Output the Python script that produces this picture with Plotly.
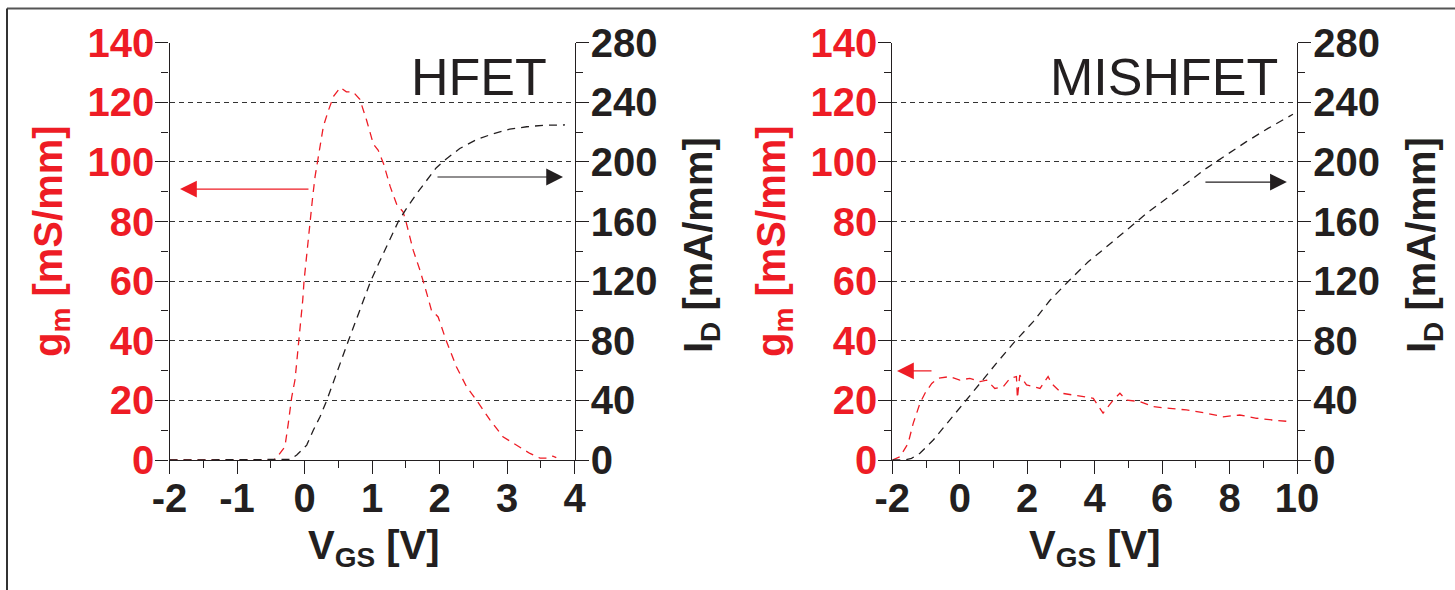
import plotly.graph_objects as go

# ---------------- data ----------------
# HFET
hfet_gm_v = [-2.0, -1.0, -0.46, -0.41, -0.29, -0.24, -0.19, -0.14, -0.105, -0.066, -0.026, -0.007, 0.018, 0.048,
             0.082, 0.12, 0.156, 0.19, 0.23, 0.28, 0.35, 0.43, 0.53, 0.62, 0.72, 0.82, 0.92, 1.02, 1.09,
             1.17, 1.27, 1.37, 1.46, 1.51, 1.61, 1.71, 1.81, 1.88, 1.98, 2.1, 2.25, 2.4, 2.55, 2.75,
             2.94, 3.14, 3.34, 3.49, 3.59, 3.68, 3.73]
hfet_gm = [0.0, 0.0, 0.0, 0.8, 4.5, 12.3, 21.0, 27.0, 35.0, 43.6, 53.7, 60.0, 66.0, 72.7,
           80.0, 88.0, 95.0, 100.0, 106.0, 112.0, 117.0, 122.0, 125.0, 123.5, 123.5, 121.0, 114.0, 106.0, 104.0,
           99.5, 91.7, 85.5, 83.3, 79.4, 70.4, 63.7, 56.0, 50.3, 48.0, 40.0, 31.3, 24.6, 20.0, 13.4,
           7.8, 5.0, 2.2, 0.6, 0.6, 1.3, 0.8]

hfet_id_v = [-2.0, -1.0, -0.4, -0.21, -0.115, 0.033, 0.13, 0.23, 0.33, 0.43, 0.53, 0.65, 0.75, 0.85, 0.98,
             1.1, 1.2, 1.3, 1.39, 1.5, 1.65, 1.8, 1.95, 2.1, 2.3, 2.55, 2.8, 3.04, 3.29, 3.54, 3.86]
hfet_id = [0.0, 0.0, 0.0, 0.4, 3.4, 10.0, 20.0, 29.0, 40.0, 52.0, 65.0, 80.0, 92.0, 104.0, 120.0,
           132.0, 142.0, 151.0, 160.0, 168.0, 178.0, 187.0, 196.0, 202.0, 209.0, 215.0, 219.0, 222.0, 223.6,
           224.6, 224.8]

# MISHFET
mis_gm_v = [-2.0, -1.77, -1.53, -1.38, -1.18, -1.03, -0.83, -0.64, -0.29, 0.0, 0.3, 0.6, 0.8, 1.04, 1.29,
            1.49, 1.68, 1.71, 1.78, 1.98, 2.38, 2.62, 2.72, 3.02, 3.36, 3.96, 4.25, 4.55, 4.75, 4.94,
            5.34, 5.73, 6.23, 6.72, 7.31, 7.81, 8.3, 8.8, 9.29, 9.78]
mis_gm = [0.0, 1.1, 5.6, 12.3, 19.0, 22.4, 25.7, 27.4, 28.0, 26.8, 27.4, 26.3, 26.8, 24.0, 24.6,
          27.4, 28.0, 20.7, 28.5, 25.2, 24.0, 28.0, 25.7, 22.4, 21.8, 20.7, 15.7, 20.1, 22.4, 20.1,
          19.6, 17.9, 17.3, 16.8, 15.7, 14.5, 15.1, 14.0, 13.4, 12.9]

mis_id_v = [-2.0, -1.6, -1.43, -1.18, -0.785, -0.29, 0.15, 0.6, 1.09, 1.63, 2.18, 2.67, 3.26, 3.81, 4.35,
            4.94, 5.54, 6.13, 6.72, 7.31, 7.9, 8.5, 9.14, 9.88]
mis_id = [0.0, 0.2, 1.1, 4.5, 13.4, 26.8, 39.0, 51.4, 65.0, 79.4, 92.8, 107.0, 120.8, 133.0, 143.0,
          154.0, 165.5, 175.5, 185.6, 195.7, 204.6, 213.6, 222.5, 232.0]

# tick labels
hfet_x_ticks = [-2, -1, 0, 1, 2, 3, 4]
hfet_x_labels = ["-2", "-1", "0", "1", "2", "3", "4"]
mis_x_ticks = [-2, 0, 2, 4, 6, 8, 10]
mis_x_labels = ["-2", "0", "2", "4", "6", "8", "10"]
gm_ticks = [0, 20, 40, 60, 80, 100, 120, 140]
id_ticks = [0, 40, 80, 120, 160, 200, 240, 280]

panel_titles = ["HFET", "MISHFET"]
gm_title = "g<sub>m</sub> [mS/mm]"
id_title = "I<sub>D</sub> [mA/mm]"
x_title = "V<sub>GS</sub> [V]"

# ---------------- styling ----------------
W, H = 1455, 590
RED = "#EE1C25"
BLK = "#231F20"
FAM = "Liberation Sans, Arial, sans-serif"


def px(x):
    return x / W


def py(y):
    return 1 - y / H


ydom = [py(460), py(42.7)]
xdom1 = [px(169.5), px(574.5)]
xdom2 = [px(892.3), px(1297)]

tickfont_blk = dict(family=FAM, size=40, color=BLK, weight="bold")
tickfont_red = dict(family=FAM, size=40, color=RED, weight="bold")

fig = go.Figure()
line_dash = "8px,6px"
fig.add_trace(go.Scatter(x=hfet_id_v, y=hfet_id, xaxis="x", yaxis="y2", mode="lines",
                         line=dict(color=BLK, width=1.3, dash=line_dash), showlegend=False))
fig.add_trace(go.Scatter(x=hfet_gm_v, y=hfet_gm, xaxis="x", yaxis="y", mode="lines",
                         line=dict(color=RED, width=1.3, dash=line_dash), showlegend=False))
fig.add_trace(go.Scatter(x=mis_id_v, y=mis_id, xaxis="x2", yaxis="y4", mode="lines",
                         line=dict(color=BLK, width=1.3, dash=line_dash), showlegend=False))
fig.add_trace(go.Scatter(x=mis_gm_v, y=mis_gm, xaxis="x2", yaxis="y3", mode="lines",
                         line=dict(color=RED, width=1.3, dash=line_dash), showlegend=False))

common_x = dict(showline=True, linecolor=BLK, linewidth=1.3, ticks="outside", ticklen=13,
                tickcolor=BLK, tickwidth=1.3, showgrid=False, zeroline=False, tickfont=tickfont_blk,
                automargin=False, ticklabelstandoff=-10)
common_top = dict(showline=True, linecolor=BLK, linewidth=1.3, ticks="inside", ticklen=13,
                  tickcolor=BLK, tickwidth=1.3, showgrid=False, zeroline=False, showticklabels=False,
                  side="top", automargin=False)
common_yl = dict(showline=True, linecolor=BLK, linewidth=1.3, ticks="outside", ticklen=13,
                 tickcolor=BLK, tickwidth=1.3, zeroline=False, tickfont=tickfont_red,
                 showgrid=True, gridcolor="#333333", gridwidth=1, griddash="5px,4px",
                 range=[0, 140], tickmode="array", tickvals=gm_ticks, ticktext=[str(v) for v in gm_ticks],
                 minor=dict(dtick=10, tick0=0, ticklen=7, ticks="outside", tickcolor=BLK, tickwidth=1.3),
                 automargin=False, ticklabelstandoff=-7)
common_yr = dict(showline=True, linecolor=BLK, linewidth=1.3, ticks="outside", ticklen=13,
                 tickcolor=BLK, tickwidth=1.3, zeroline=False, tickfont=tickfont_blk,
                 showgrid=False, range=[0, 280], side="right",
                 tickmode="array", tickvals=id_ticks, ticktext=[str(v) for v in id_ticks],
                 minor=dict(dtick=20, tick0=0, ticklen=7, ticks="outside", tickcolor=BLK, tickwidth=1.3),
                 automargin=False, ticklabelstandoff=-6)

fig.update_layout(
    template="none",
    width=W, height=H,
    margin=dict(l=0, r=0, t=0, b=0, autoexpand=False),
    paper_bgcolor="white", plot_bgcolor="white",
    showlegend=False,
    xaxis=dict(domain=xdom1, anchor="y", range=[-2, 4], tickmode="array", tickvals=hfet_x_ticks,
               ticktext=hfet_x_labels,
               minor=dict(dtick=0.5, tick0=0, ticklen=7, ticks="outside", tickcolor=BLK, tickwidth=1.3),
               **common_x),
    xaxis3=dict(overlaying="x", anchor="y", range=[-2, 4], tickmode="array", tickvals=hfet_x_ticks,
                minor=dict(dtick=0.5, tick0=0, ticklen=7, ticks="inside", tickcolor=BLK, tickwidth=1.3),
                **common_top),
    yaxis=dict(domain=ydom, anchor="x", **common_yl),
    yaxis2=dict(overlaying="y", anchor="x", **common_yr),
    xaxis2=dict(domain=xdom2, anchor="y3", range=[-2, 10], tickmode="array", tickvals=mis_x_ticks,
                ticktext=mis_x_labels,
                minor=dict(dtick=1, tick0=0, ticklen=7, ticks="outside", tickcolor=BLK, tickwidth=1.3),
                **common_x),
    xaxis4=dict(overlaying="x2", anchor="y3", range=[-2, 10], tickmode="array", tickvals=mis_x_ticks,
                minor=dict(dtick=1, tick0=0, ticklen=7, ticks="inside", tickcolor=BLK, tickwidth=1.3),
                **common_top),
    yaxis3=dict(domain=ydom, anchor="x2", **common_yl),
    yaxis4=dict(overlaying="y3", anchor="x2", **common_yr),
)

ann = []
title_font_red = dict(family=FAM, size=40, color=RED, weight="bold")
title_font_blk = dict(family=FAM, size=40, color=BLK, weight="bold")
for cx_gm, cx_id, cx_x in [(51, 701, 374), (774, 1424, 1094.5)]:
    ann.append(dict(text=gm_title, x=px(cx_gm), y=py(241), xref="paper", yref="paper",
                    textangle=-90, showarrow=False, xanchor="center", yanchor="middle", font=title_font_red))
    ann.append(dict(text=id_title, x=px(cx_id), y=py(245), xref="paper", yref="paper",
                    textangle=-90, showarrow=False, xanchor="center", yanchor="middle", font=title_font_blk))
    ann.append(dict(text=x_title, x=px(cx_x), y=py(548), xref="paper", yref="paper",
                    showarrow=False, xanchor="center", yanchor="middle", font=title_font_blk))

panel_font = dict(family=FAM, size=52, color=BLK)
ann.append(dict(text=panel_titles[0], x=px(549), y=py(77), xref="paper", yref="paper",
                showarrow=False, xanchor="right", yanchor="middle", font=panel_font))
ann.append(dict(text=panel_titles[1], x=px(1280), y=py(77), xref="paper", yref="paper",
                showarrow=False, xanchor="right", yanchor="middle", font=panel_font))

# arrows pointing to the axis of each curve
arrow_specs = [
    ("x", "y", 0.081, -1.844, 90.9, RED),
    ("x", "y2", 1.948, 3.83, 189.9, BLK),
    ("x2", "y3", -0.793, -1.86, 29.9, RED),
    ("x2", "y4", 7.24, 9.70, 186.5, BLK),
]
for xr, yr, x0, x1, yv, col in arrow_specs:
    ann.append(dict(x=x1, y=yv, ax=x0, ay=yv, xref=xr, yref=yr, axref=xr, ayref=yr, text="",
                    showarrow=True, arrowhead=2, arrowsize=2.8, arrowwidth=1.2, arrowcolor=col))

fig.update_layout(annotations=ann)

# outer frame (top and left edges)
fig.add_shape(type="line", xref="paper", yref="paper", x0=px(7), x1=1.01, y0=py(8.5), y1=py(8.5),
              line=dict(color="#555555", width=2))
fig.add_shape(type="line", xref="paper", yref="paper", x0=px(7), x1=px(7), y0=py(8.5), y1=-0.01,
              line=dict(color="#333333", width=2))

fig.write_html("out.html", config={"displayModeBar": False},
               post_script="document.body.style.margin='0px';document.body.style.overflow='hidden';")
